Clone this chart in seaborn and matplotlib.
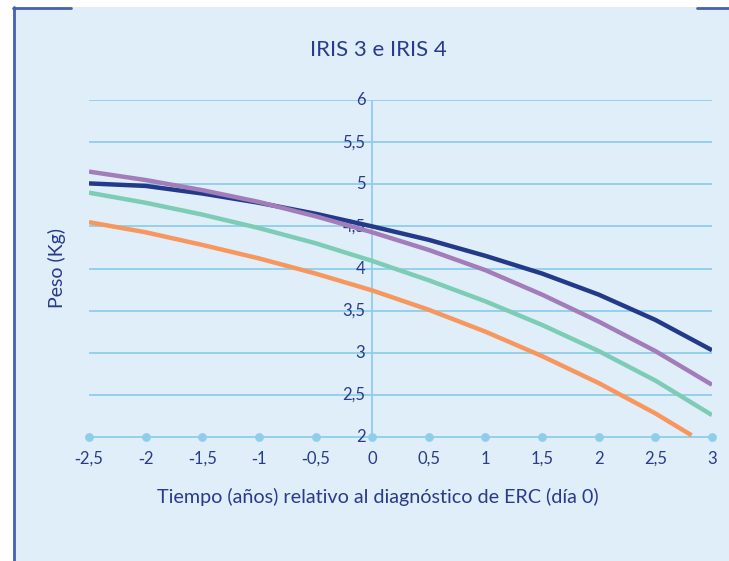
import numpy as np
import pandas as pd
import matplotlib
matplotlib.use("Agg")
import matplotlib.pyplot as plt
import seaborn as sns
from matplotlib.patches import Rectangle
from matplotlib.lines import Line2D

# ---- data ----
x_main = [-2.5, -2, -1.5, -1, -0.5, 0, 0.5, 1, 1.5, 2, 2.5, 3]
navy = [5.01, 4.98, 4.89, 4.78, 4.65, 4.50, 4.34, 4.15, 3.94, 3.69, 3.39, 3.03]
purple = [5.15, 5.05, 4.93, 4.79, 4.62, 4.43, 4.22, 3.98, 3.69, 3.37, 3.02, 2.62]
teal = [4.90, 4.78, 4.64, 4.48, 4.30, 4.09, 3.86, 3.61, 3.33, 3.02, 2.67, 2.26]
x_orange = [-2.5, -2, -1.5, -1, -0.5, 0, 0.5, 1, 1.5, 2, 2.5, 2.82]
orange = [4.55, 4.43, 4.28, 4.12, 3.94, 3.74, 3.51, 3.25, 2.96, 2.64, 2.28, 2.02]

x_ticks = [-2.5, -2, -1.5, -1, -0.5, 0, 0.5, 1, 1.5, 2, 2.5, 3]
y_ticks = [2, 2.5, 3, 3.5, 4, 4.5, 5, 5.5, 6]

title = "IRIS 3 e IRIS 4"
xlabel = "Tiempo (años) relativo al diagnóstico de ERC (día 0)"
ylabel = "Peso (Kg)"

series = {"navy": (x_main, navy), "purple": (x_main, purple),
          "teal": (x_main, teal), "orange": (x_orange, orange)}
rows = []
for name, (xs, ys) in series.items():
    for a, b in zip(xs, ys):
        rows.append({"x": a, "y": b, "serie": name})
df = pd.DataFrame(rows)

palette = {"navy": "#233A8B", "purple": "#A27DBA", "teal": "#7DCCB6", "orange": "#F7975E"}
text_color = "#2A3A8C"
grid_color = "#8FCDEB"
bg_color = "#DFEEF8"
border_color = "#4461B3"

sns.set_theme(style="white")
plt.rcParams['font.family'] = ['Lato', 'DejaVu Sans']

W, H = 729, 561
fig = plt.figure(figsize=(W / 100, H / 100), dpi=100)
fig.patch.set_facecolor("white")

# background panel
fig.patches.append(Rectangle((13 / W, 0), 1 - 13 / W, 1 - 7 / H, transform=fig.transFigure,
                             facecolor=bg_color, edgecolor="none", zorder=-5))
fig.lines.append(Line2D([14 / W, 14 / W], [0, 1 - 7 / H], transform=fig.transFigure,
                        color=border_color, lw=2, zorder=-4))
fig.lines.append(Line2D([13 / W, 71 / W], [1 - 8 / H, 1 - 8 / H], transform=fig.transFigure,
                        color=border_color, lw=2, zorder=-4))
fig.lines.append(Line2D([697 / W, 1], [1 - 8 / H, 1 - 8 / H], transform=fig.transFigure,
                        color=border_color, lw=2, zorder=-4))

x0, x1 = 89, 712
y0, y1 = 100, 437
ax = fig.add_axes([x0 / W, 1 - y1 / H, (x1 - x0) / W, (y1 - y0) / H])
ax.set_zorder(2)
ax.set_facecolor("none")

ax.set_xlim(-2.5, 3)
ax.set_ylim(2, 6)

# grid
for yv in y_ticks[1:]:
    ax.axhline(yv, color=grid_color, lw=1.3, zorder=1)
ax.axvline(0, color=grid_color, lw=1.3, zorder=1)
ax.axhline(2, color=grid_color, lw=1.3, zorder=1, clip_on=False)
ax.scatter(x_ticks, [2] * len(x_ticks), s=40, color=grid_color, zorder=2, clip_on=False,
           linewidths=0)

sns.lineplot(data=df, x="x", y="y", hue="serie", palette=palette, lw=3.2,
             legend=False, ax=ax, zorder=3, sort=False)
for l in ax.lines:
    l.set_solid_capstyle("butt")

for s in ax.spines.values():
    s.set_visible(False)

ax.set_xticks(x_ticks)
ax.set_xticklabels([f"{v:g}".replace(".", ",").replace("-", "\u2011") for v in x_ticks],
                   color=text_color, fontsize=12)
ax.set_yticks(y_ticks)
ax.set_yticklabels([])
ax.tick_params(axis="both", length=0)
ax.tick_params(axis="x", pad=10)
for yv in y_ticks:
    ax.text(-0.06, yv, f"{yv:g}".replace(".", ","), ha="right", va="center",
            color=text_color, fontsize=12, zorder=2)

ax.set_xlabel("")
ax.set_ylabel("")

fig.text(378 / W, 1 - 50 / H, title, ha="center", va="center", color=text_color, fontsize=16)
fig.text(378 / W, 1 - 497 / H, xlabel, ha="center", va="center", color=text_color, fontsize=14.2)
fig.text(57 / W, 1 - 268 / H, ylabel, ha="center", va="center", rotation=90,
         color=text_color, fontsize=14)

fig.savefig("out.png", dpi=100, facecolor="white")
